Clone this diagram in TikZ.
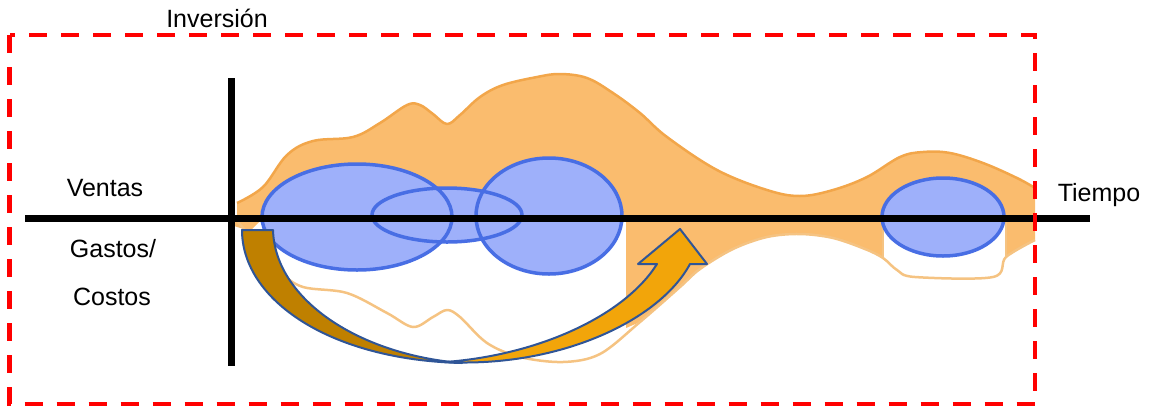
\documentclass[tikz,border=0pt]{standalone}
\usepackage{fontspec}
\setmainfont{Liberation Sans}
\definecolor{blobfill}{RGB}{250,188,110}
\definecolor{blobline}{RGB}{242,166,74}
\definecolor{lowline}{RGB}{245,195,130}
\definecolor{ellfill}{RGB}{158,176,250}
\definecolor{ellline}{RGB}{72,110,228}
\definecolor{darkgold}{RGB}{191,128,0}
\definecolor{lightgold}{RGB}{242,165,10}
\definecolor{arrowline}{RGB}{47,85,151}
\begin{document}
\begin{tikzpicture}[x=1pt,y=-1pt,
  lbl/.style={font=\fontsize{25}{30}\selectfont, inner sep=0pt, anchor=center},
  blobedge/.style={draw=blobline, line width=2.5pt, line join=round},
  lowedge/.style={draw=lowline, line width=2.5pt, line join=round},
  ellshape/.style={fill=ellfill},
  elledge/.style={draw=ellline, line width=3.5pt},
  axisline/.style={line width=7pt, black},
  frameline/.style={draw=red, line width=4.5pt, dash pattern=on 18pt off 14pt},
  bandstyle/.style={draw=arrowline, line width=2pt, line join=round}]
\useasboundingbox (0,0) rectangle (1151,408);

% upper orange blob
\fill[blobfill] (237,217) -- plot[smooth, tension=0.6] coordinates {(237,203) (263,187) (287,155) (313,141) (353,137) (380,123) (407,105) (420,105) (433,114) (447,124) (460,115) (480,97) (503,85) (537,77) (560,74) (587,78) (613,93) (640,113) (667,137) (717,170) (767,190) (800,196) (833,190) (867,177) (900,157) (923,152) (950,153) (983,163) (1017,178) (1035,188)} -- (1035,217) -- cycle;
\draw[blobedge] plot[smooth, tension=0.6] coordinates {(237,203) (263,187) (287,155) (313,141) (353,137) (380,123) (407,105) (420,105) (433,114) (447,124) (460,115) (480,97) (503,85) (537,77) (560,74) (587,78) (613,93) (640,113) (667,137) (717,170) (767,190) (800,196) (833,190) (867,177) (900,157) (923,152) (950,153) (983,163) (1017,178) (1035,188)};

% small strip left of first ellipse below axis
\fill[blobfill] (234,217) -- (234,226) -- (250,231) -- (264,217) -- cycle;

% lower orange regions
\fill[blobfill] (626,217) -- (626,328) -- plot[smooth, tension=0.6] coordinates {(640,322) (680,287) (700,269) (733,249) (767,237) (800,234) (833,238) (865,249) (883,258)} -- (883,217) -- cycle;
\fill[blobfill] (1006,217) -- (1006,257) -- (1035,240) -- (1035,217) -- cycle;
\draw[lowline, line width=1.2pt] (883,217) -- (883,257) (1006,217) -- (1006,257);

% lower outline (one continuous line)
\draw[lowedge] plot[smooth, tension=0.55] coordinates {(238,222) (262,250) (280,272) (303,287) (347,293) (387,313) (413,327) (433,317) (447,310) (460,317) (487,343) (520,357) (563,362) (600,354) (640,322) (680,287) (700,269) (733,249) (767,237) (800,234) (833,238) (865,249) (883,258) (897,270) (915,277) (993,277) (1006,257) (1035,240)};

% ellipses
\path[ellshape] (357,217) ellipse [x radius=95pt, y radius=53pt];
\path[ellshape] (447,215) ellipse [x radius=75pt, y radius=27pt];
\path[ellshape] (549,216) ellipse [x radius=73pt, y radius=58pt];
\path[ellshape] (943,217) ellipse [x radius=61pt, y radius=39pt];
\draw[elledge] (357,217) ellipse [x radius=95pt, y radius=53pt];
\draw[elledge] (447,215) ellipse [x radius=75pt, y radius=27pt];
\draw[elledge] (549,216) ellipse [x radius=73pt, y radius=58pt];
\draw[elledge] (943,217) ellipse [x radius=61pt, y radius=39pt];

% axes
\coordinate (xl) at (25,218);
\coordinate (xr) at (1090,218);
\coordinate (yt) at (231,78);
\coordinate (yb) at (231,366);
\draw[axisline] (xl) -- (xr);
\draw[axisline] (yt) -- (yb);

% curved arrow
\path[bandstyle, fill=darkgold] (242,230) -- (273,230) .. controls (275,300) and (360,355) .. (462,363) .. controls (330,360) and (242,300) .. (242,230) -- cycle;
\path[bandstyle, fill=lightgold] (445,362) .. controls (560,368) and (660,320) .. (690,264) -- (707,264) -- (680,229) -- (638,264) -- (657,264) .. controls (625,315) and (540,355) .. (445,362) -- cycle;

% labels
\node[lbl] (inv) at (217,18) {Inversión};
\node[lbl] (ventas) at (105,188) {Ventas};
\node[lbl] (gastos) at (113,249) {Gastos/};
\node[lbl] (costos) at (112,297) {Costos};
\node[lbl] (tiempo) at (1099,195) {Tiempo};

% dashed frame
\draw[frameline] (9.5,35) rectangle (1035,404);
\end{tikzpicture}
\end{document}
